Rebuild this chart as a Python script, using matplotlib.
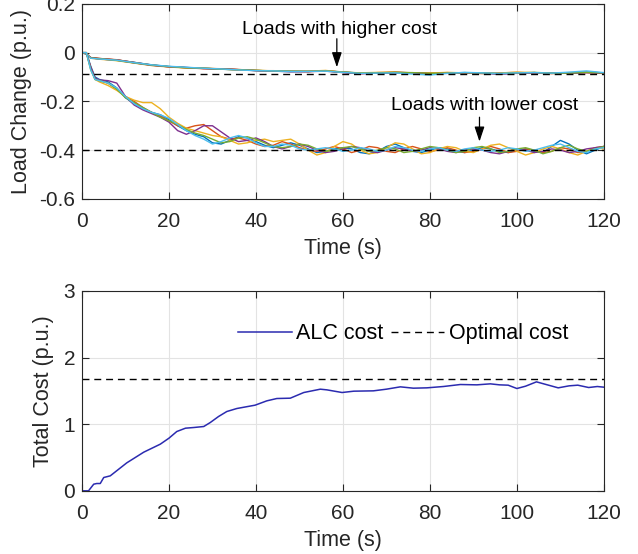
import matplotlib
matplotlib.use("Agg")
import matplotlib.pyplot as plt

plt.rcParams["font.family"] = ["Liberation Sans", "DejaVu Sans"]
plt.rcParams["axes.unicode_minus"] = False

# time grids (s)
t_low = [0, 1, 2, 3, 4,
         6, 8, 10, 12, 14, 16, 18, 20, 22, 24,
         26, 28, 30, 32, 34, 36, 38, 40, 42, 44,
         46, 48, 50, 52, 54, 56, 58, 60, 62, 64,
         66, 68, 70, 72, 74, 76, 78, 80, 82, 84,
         86, 88, 90, 92, 94, 96, 98, 100, 102, 104,
         106, 108, 110, 112, 114, 116, 118, 120]

t_high = [0, 1, 2,
          4, 8, 12, 16, 20, 24, 28, 32, 36, 40,
          44, 48, 52, 56, 60, 64, 68, 72, 76, 80,
          84, 88, 92, 96, 100, 104, 108, 112, 116, 120]

# load change of the cheaper loads (p.u.)
low_cost_loads = [
    [0, 0, -0.055, -0.100, -0.110,
     -0.120, -0.145, -0.185, -0.210, -0.230, -0.245, -0.255, -0.275, -0.300, -0.320,
     -0.335, -0.345, -0.370, -0.375, -0.360, -0.345, -0.350, -0.365, -0.380, -0.390,
     -0.380, -0.370, -0.380, -0.395, -0.410, -0.405, -0.395, -0.390, -0.395, -0.410,
     -0.415, -0.405, -0.385, -0.375, -0.390, -0.405, -0.410, -0.400, -0.390, -0.395,
     -0.405, -0.410, -0.400, -0.390, -0.395, -0.405, -0.410, -0.400, -0.395, -0.405,
     -0.410, -0.385, -0.360, -0.375, -0.400, -0.415, -0.400, -0.385],
    [0, 0, -0.060, -0.105, -0.115,
     -0.125, -0.150, -0.180, -0.200, -0.225, -0.245, -0.260, -0.280, -0.300, -0.310,
     -0.300, -0.295, -0.320, -0.345, -0.355, -0.350, -0.360, -0.375, -0.385, -0.380,
     -0.365, -0.375, -0.390, -0.400, -0.405, -0.395, -0.385, -0.395, -0.410, -0.400,
     -0.385, -0.390, -0.405, -0.410, -0.395, -0.385, -0.395, -0.405, -0.400, -0.390,
     -0.400, -0.410, -0.405, -0.395, -0.385, -0.395, -0.410, -0.405, -0.395, -0.400,
     -0.410, -0.405, -0.390, -0.395, -0.410, -0.405, -0.390, -0.385],
    [0, 0, -0.065, -0.110, -0.120,
     -0.135, -0.155, -0.180, -0.195, -0.205, -0.205, -0.230, -0.265, -0.290, -0.310,
     -0.320, -0.330, -0.340, -0.345, -0.360, -0.375, -0.370, -0.360, -0.355, -0.365,
     -0.360, -0.355, -0.375, -0.400, -0.420, -0.410, -0.385, -0.365, -0.375, -0.400,
     -0.415, -0.410, -0.390, -0.370, -0.375, -0.395, -0.415, -0.410, -0.395, -0.385,
     -0.390, -0.405, -0.410, -0.395, -0.380, -0.375, -0.390, -0.405, -0.420, -0.410,
     -0.395, -0.385, -0.395, -0.410, -0.420, -0.405, -0.390, -0.395],
    [0, 0, -0.060, -0.105, -0.112,
     -0.115, -0.125, -0.180, -0.215, -0.235, -0.250, -0.265, -0.285, -0.320, -0.335,
     -0.320, -0.300, -0.300, -0.325, -0.350, -0.365, -0.360, -0.350, -0.365, -0.385,
     -0.395, -0.385, -0.375, -0.385, -0.400, -0.410, -0.405, -0.395, -0.385, -0.390,
     -0.405, -0.410, -0.400, -0.390, -0.395, -0.405, -0.400, -0.390, -0.395, -0.405,
     -0.410, -0.400, -0.395, -0.400, -0.410, -0.415, -0.405, -0.395, -0.400, -0.410,
     -0.405, -0.395, -0.400, -0.410, -0.405, -0.395, -0.390, -0.385],
    [0, 0, -0.070, -0.110, -0.115,
     -0.125, -0.150, -0.185, -0.205, -0.225, -0.245, -0.265, -0.280, -0.295, -0.315,
     -0.330, -0.340, -0.355, -0.370, -0.365, -0.350, -0.345, -0.355, -0.370, -0.385,
     -0.390, -0.385, -0.375, -0.380, -0.395, -0.405, -0.400, -0.390, -0.385, -0.395,
     -0.405, -0.400, -0.390, -0.395, -0.410, -0.405, -0.395, -0.385, -0.390, -0.400,
     -0.410, -0.405, -0.390, -0.385, -0.395, -0.410, -0.405, -0.395, -0.390, -0.400,
     -0.415, -0.405, -0.390, -0.380, -0.395, -0.405, -0.395, -0.385],
    [0, 0, -0.070, -0.110, -0.115,
     -0.125, -0.145, -0.180, -0.210, -0.230, -0.245, -0.255, -0.270, -0.295, -0.320,
     -0.340, -0.355, -0.375, -0.365, -0.350, -0.340, -0.350, -0.370, -0.385, -0.385,
     -0.375, -0.380, -0.395, -0.400, -0.395, -0.390, -0.395, -0.405, -0.400, -0.390,
     -0.395, -0.405, -0.400, -0.385, -0.390, -0.400, -0.405, -0.395, -0.390, -0.400,
     -0.405, -0.395, -0.390, -0.400, -0.405, -0.400, -0.390, -0.395, -0.405, -0.400,
     -0.390, -0.380, -0.375, -0.390, -0.405, -0.410, -0.395, -0.390],
]

# load change of the more expensive loads (p.u.)
high_cost_loads = [
    [0, -0.005, -0.021,
     -0.024, -0.030, -0.040, -0.051, -0.058, -0.062, -0.065, -0.066, -0.070, -0.073,
     -0.076, -0.077, -0.077, -0.075, -0.080, -0.085, -0.083, -0.081, -0.083, -0.085,
     -0.083, -0.083, -0.084, -0.086, -0.084, -0.082, -0.085, -0.083, -0.081, -0.083],
    [0, -0.005, -0.022,
     -0.025, -0.030, -0.040, -0.050, -0.057, -0.061, -0.064, -0.068, -0.071, -0.073,
     -0.076, -0.078, -0.077, -0.075, -0.079, -0.084, -0.085, -0.082, -0.084, -0.086,
     -0.083, -0.082, -0.085, -0.087, -0.084, -0.082, -0.085, -0.084, -0.080, -0.083],
    [0, -0.004, -0.020,
     -0.024, -0.029, -0.041, -0.051, -0.058, -0.062, -0.066, -0.066, -0.069, -0.074,
     -0.074, -0.076, -0.078, -0.074, -0.081, -0.086, -0.082, -0.080, -0.083, -0.084,
     -0.082, -0.084, -0.086, -0.083, -0.081, -0.084, -0.086, -0.083, -0.082, -0.084],
    [0, -0.005, -0.023,
     -0.027, -0.033, -0.043, -0.053, -0.059, -0.063, -0.063, -0.067, -0.072, -0.072,
     -0.075, -0.077, -0.076, -0.073, -0.080, -0.083, -0.081, -0.080, -0.085, -0.084,
     -0.081, -0.083, -0.085, -0.084, -0.080, -0.082, -0.085, -0.082, -0.081, -0.083],
    [0, -0.006, -0.021,
     -0.026, -0.031, -0.042, -0.052, -0.058, -0.061, -0.065, -0.067, -0.070, -0.074,
     -0.076, -0.078, -0.078, -0.076, -0.082, -0.087, -0.084, -0.082, -0.083, -0.087,
     -0.085, -0.083, -0.084, -0.088, -0.085, -0.083, -0.084, -0.085, -0.082, -0.084],
    [0, -0.005, -0.022,
     -0.025, -0.032, -0.042, -0.051, -0.057, -0.062, -0.064, -0.068, -0.070, -0.073,
     -0.075, -0.076, -0.077, -0.075, -0.080, -0.084, -0.083, -0.081, -0.082, -0.085,
     -0.084, -0.082, -0.083, -0.086, -0.083, -0.081, -0.084, -0.084, -0.081, -0.083],
    [0, -0.005, -0.023,
     -0.026, -0.031, -0.041, -0.050, -0.056, -0.060, -0.064, -0.067, -0.071, -0.074,
     -0.075, -0.077, -0.077, -0.076, -0.081, -0.085, -0.084, -0.083, -0.088, -0.092,
     -0.085, -0.081, -0.083, -0.085, -0.083, -0.082, -0.084, -0.080, -0.075, -0.082],
]

high_optimal = -0.088
low_optimal = -0.40

# total cost (p.u.)
cost_t = [0, 1.5, 2.7, 3.4, 4.2, 5, 6.5, 10.3, 14.2, 18, 20, 21.8, 23.8, 25.7,
          28, 29.5, 31.4, 33.3, 35.6, 39.8, 42.5, 44.8, 47.9, 51, 54.8, 56.3,
          59.8, 62.5, 67, 70, 73.2, 76.2, 79.3, 83.1, 87, 90.8, 93.9, 96, 98,
          100, 102, 104.5, 107, 109.5, 112, 114, 116.5, 118.5, 120]
alc_cost = [0, 0, 0.10, 0.11, 0.11, 0.20, 0.225, 0.42, 0.58, 0.70, 0.79, 0.89,
            0.94, 0.95, 0.965, 1.025, 1.115, 1.19, 1.235, 1.285, 1.35, 1.385,
            1.39, 1.475, 1.525, 1.515, 1.475, 1.495, 1.50, 1.525, 1.56, 1.54,
            1.545, 1.565, 1.595, 1.59, 1.605, 1.59, 1.585, 1.535, 1.57, 1.635,
            1.59, 1.545, 1.575, 1.585, 1.55, 1.565, 1.555]
optimal_cost = 1.675

high_colors = ["#A2142F", "#0072BD", "#D95319", "#EDB120", "#7E2F8E",
               "#77AC30", "#4DBEEE"]
low_colors = ["#0072BD", "#D95319", "#EDB120", "#7E2F8E", "#77AC30", "#4DBEEE"]

TICK_FS = 15
LABEL_FS = 15.5
NOTE_FS = 14
AX_COLOR = "#262626"


def style_axes(ax, yticks, ylim):
    ax.set_xlim(0, 120)
    ax.set_ylim(*ylim)
    ax.set_xticks([0, 20, 40, 60, 80, 100, 120])
    ax.set_yticks(yticks)
    ax.grid(True, color="#e3e3e3", linewidth=0.8)
    ax.set_axisbelow(True)
    ax.tick_params(direction="in", length=5, width=0.8, top=True, right=True,
                   labelsize=TICK_FS, colors=AX_COLOR, pad=5)
    ax.tick_params(axis="x", pad=9.5)
    for spine in ax.spines.values():
        spine.set_color(AX_COLOR)
        spine.set_linewidth(0.8)
    ax.set_xlabel("Time (s)", fontsize=LABEL_FS, color=AX_COLOR, labelpad=5)


fig = plt.figure(figsize=(6.38, 5.54), dpi=100)
ax1 = fig.add_axes([0.1285, 0.641, 0.818, 0.352])
ax2 = fig.add_axes([0.1285, 0.114, 0.818, 0.361])

for color, vals in zip(high_colors, high_cost_loads):
    ax1.plot(t_high, vals, color=color, linewidth=1.0)
for color, vals in zip(low_colors, low_cost_loads):
    ax1.plot(t_low, vals, color=color, linewidth=1.0)
ax1.axhline(high_optimal, color="k", linestyle=(0, (5, 3.5)), linewidth=1.0)
ax1.axhline(low_optimal, color="k", linestyle=(0, (5, 3.5)), linewidth=1.0)

style_axes(ax1, [-0.6, -0.4, -0.2, 0, 0.2], (-0.6, 0.2))
ax1.set_yticklabels(["-0.6", "-0.4", "-0.2", "0", "0.2"])
ax1.set_ylabel("Load Change (p.u.)", fontsize=LABEL_FS, color=AX_COLOR)
ax1.yaxis.set_label_coords(-0.095, 0.5)

arrow_style = dict(arrowstyle="-|>,head_length=0.9,head_width=0.3",
                   color="k", linewidth=0.9, shrinkA=0, shrinkB=0)
ax1.text(59.3, 0.095, "Loads with higher cost", ha="center", va="center",
         fontsize=NOTE_FS, color="k")
ax1.annotate("", xy=(58.6, -0.06), xytext=(58.6, 0.057), arrowprops=arrow_style)
ax1.text(92.5, -0.215, "Loads with lower cost", ha="center", va="center",
         fontsize=NOTE_FS, color="k")
ax1.annotate("", xy=(91.4, -0.365), xytext=(91.4, -0.265), arrowprops=arrow_style)

ax2.plot(cost_t, alc_cost, color="#2b2bb0", linewidth=1.1, label="ALC cost")
ax2.axhline(optimal_cost, color="k", linestyle=(0, (5, 3.5)), linewidth=1.0,
            label="Optimal cost")
style_axes(ax2, [0, 1, 2, 3], (0, 3))
ax2.set_ylabel("Total Cost (p.u.)", fontsize=LABEL_FS, color=AX_COLOR)
ax2.yaxis.set_label_coords(-0.053, 0.5)
ax2.legend(loc="center", bbox_to_anchor=(0.615, 0.785), ncol=2, frameon=False,
           fontsize=15.5, handlelength=2.5, handletextpad=0.2,
           columnspacing=0.35, borderpad=0.2)

fig.savefig("out.png", dpi=100)
